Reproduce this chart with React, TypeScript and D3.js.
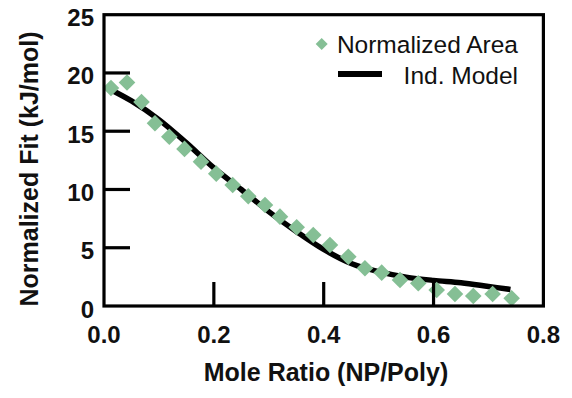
import React from "react";
import * as d3 from "d3";

const xTicks = [0.0, 0.2, 0.4, 0.6, 0.8];
const yTicks = [0, 5, 10, 15, 20, 25];

const areaX = [0.0127, 0.0419, 0.0683, 0.0928, 0.1189, 0.1466, 0.1766, 0.2044, 0.2343, 0.2627, 0.2931, 0.3204, 0.3508, 0.381, 0.4114, 0.4448, 0.4751, 0.5056, 0.5389, 0.5722, 0.6057, 0.639, 0.6723, 0.7076, 0.7422];
const areaY = [18.71, 19.18, 17.51, 15.68, 14.53, 13.48, 12.39, 11.36, 10.39, 9.42, 8.67, 7.67, 6.76, 6.09, 5.24, 4.23, 3.24, 2.86, 2.23, 1.95, 1.37, 1.03, 0.86, 1.03, 0.66];

const modelX = [0.015, 0.05, 0.1, 0.15, 0.2, 0.25, 0.3, 0.35, 0.4, 0.45, 0.5, 0.55, 0.6, 0.65, 0.7, 0.74];
const modelY = [18.5, 17.6, 16.0, 14.0, 11.85, 10.0, 8.1, 6.4, 4.85, 3.65, 2.95, 2.48, 2.2, 2.0, 1.68, 1.42];

const legendLabels = ["Normalized Area", "Ind. Model"];

const W = 572, H = 398;
const L = 104, R = 543.4, T = 14.7, B = 306;
const green = "#85BF95";
const font = "'Liberation Sans', Arial, Helvetica, sans-serif";

export default function App() {
  const x = d3.scaleLinear().domain([0, 0.8]).range([L, R]);
  const y = d3.scaleLinear().domain([0, 25]).range([B, T]);
  const line = d3.line<number>()
    .x((_, i) => x(modelX[i]))
    .y((d) => y(d))
    .curve(d3.curveCatmullRom.alpha(0.5));
  const diamond = d3.symbol().type(d3.symbolSquare).size(138)();
  const legendDiamond = d3.symbol().type(d3.symbolSquare).size(72)();

  return (
    <svg width={W} height={H} style={{ position: "absolute", left: 0, top: 0, background: "#fff" }}>
      <rect x={0} y={0} width={W} height={H} fill="#fff" />
      {/* model line */}
      <path d={line(modelY) || ""} fill="none" stroke="#000" strokeWidth={5.5} strokeLinecap="butt" />
      {/* diamonds */}
      {areaY.map((v, i) => (
        <path key={i} d={diamond} fill={green}
          transform={`translate(${x(areaX[i])},${y(v)}) rotate(45)`} />
      ))}
      {/* frame */}
      <rect x={L} y={T} width={R - L} height={B - T} fill="none" stroke="#000" strokeWidth={3.2} />
      {/* ticks */}
      {yTicks.filter((t) => t > 0 && t < 25).map((t) => (
        <line key={"yt" + t} x1={L} x2={L + 26} y1={y(t)} y2={y(t)} stroke="#000" strokeWidth={3.2} />
      ))}
      {xTicks.filter((t) => t > 0 && t < 0.8).map((t) => (
        <line key={"xt" + t} x1={x(t)} x2={x(t)} y1={B} y2={B - 24} stroke="#000" strokeWidth={3.2} />
      ))}
      {/* tick labels */}
      {yTicks.map((t) => (
        <text key={"yl" + t} x={94} y={y(t) + 11.5} textAnchor="end" fontFamily={font}
          fontWeight="bold" fontSize={24} fill="#111">{t}</text>
      ))}
      {xTicks.map((t) => (
        <text key={"xl" + t} x={x(t)} y={343} textAnchor="middle" fontFamily={font}
          fontWeight="bold" fontSize={24} fill="#111">{t.toFixed(1)}</text>
      ))}
      {/* axis titles */}
      <text x={326} y={381} textAnchor="middle" fontFamily={font} fontWeight="bold" fontSize={25} fill="#111">
        Mole Ratio (NP/Poly)
      </text>
      <text transform={`translate(38,169) rotate(-90)`} textAnchor="middle" fontFamily={font}
        fontWeight="bold" fontSize={25} fill="#111">Normalized Fit (kJ/mol)</text>
      {/* legend */}
      <path d={legendDiamond} fill={green} transform="translate(321.7,44) rotate(45)" />
      <text x={518} y={53} textAnchor="end" fontFamily={font} fontSize={24.5} fill="#111">{legendLabels[0]}</text>
      <line x1={338} x2={382} y1={74} y2={74} stroke="#000" strokeWidth={6} />
      <text x={518} y={84} textAnchor="end" fontFamily={font} fontSize={24.5} fill="#111">{legendLabels[1]}</text>
    </svg>
  );
}
